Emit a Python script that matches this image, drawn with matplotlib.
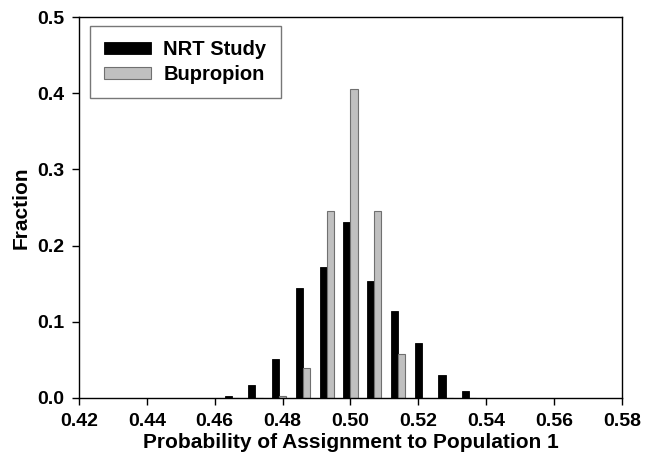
import matplotlib.pyplot as plt
import numpy as np

# bin centres and fractions
bin_centers = [0.465, 0.472, 0.479, 0.486, 0.493, 0.500, 0.507, 0.514, 0.521, 0.528, 0.535]
nrt_study = [0.003, 0.017, 0.051, 0.144, 0.172, 0.231, 0.154, 0.114, 0.072, 0.030, 0.009]
bupropion = [0.0, 0.0, 0.002, 0.040, 0.245, 0.406, 0.245, 0.058, 0.0, 0.0, 0.0]

x_ticks = [0.42, 0.44, 0.46, 0.48, 0.50, 0.52, 0.54, 0.56, 0.58]
y_ticks = [0.0, 0.1, 0.2, 0.3, 0.4, 0.5]

plt.rcParams['font.family'] = ['Liberation Sans', 'DejaVu Sans']
plt.rcParams['font.weight'] = 'bold'


def main():
    fig = plt.figure(figsize=(6.46, 4.65), dpi=100)
    ax = fig.add_axes([0.1223, 0.1441, 0.8405, 0.8193])

    x = np.array(bin_centers)
    w = 0.0021
    ax.bar(x - w / 2, nrt_study, width=w, color='black', edgecolor='black',
           linewidth=0.6, label='NRT Study')
    ax.bar(x + w / 2, bupropion, width=w, color='#c0c0c0', edgecolor='#707070',
           linewidth=0.8, label='Bupropion')

    ax.set_xlim(0.42, 0.58)
    ax.set_ylim(0.0, 0.5)
    ax.set_xticks(x_ticks)
    ax.set_xticklabels([f'{t:.2f}' for t in x_ticks])
    ax.set_yticks(y_ticks)
    ax.set_yticklabels([f'{t:.1f}' for t in y_ticks])
    ax.tick_params(direction='out', length=5, width=1, labelsize=14)
    ax.tick_params(axis='x', pad=6)
    ax.tick_params(axis='y', pad=5.5)
    for s in ax.spines.values():
        s.set_linewidth(1)

    ax.set_xlabel('Probability of Assignment to Population 1', fontsize=15,
                  fontweight='bold', labelpad=2)
    ax.set_ylabel('Fraction', fontsize=15, fontweight='bold', labelpad=5)

    leg = ax.legend(loc='upper left', bbox_to_anchor=(0.02, 0.976), borderaxespad=0,
                    fancybox=False, edgecolor='#555555', fontsize=14.5,
                    handlelength=2.35, handleheight=0.5, handletextpad=0.6,
                    borderpad=0.7, labelspacing=0.3)
    leg.get_frame().set_linewidth(1)

    fig.savefig('out.png', dpi=100)
    plt.close(fig)


if __name__ == '__main__':
    main()
